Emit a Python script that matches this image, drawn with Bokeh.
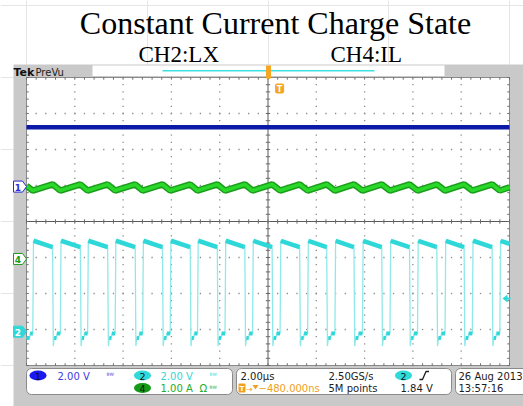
import numpy as np
from bokeh.plotting import figure
from bokeh.models import Range1d
from bokeh.core.properties import value
from bokeh.embed import file_html
from bokeh.resources import INLINE

# ---------------- data ----------------
title_text = "Constant Current Charge State"
subtitle_texts = ["CH2:LX", "CH4:IL"]

time_per_div_us = 2.0
n_div_x = 10
n_div_y = 8

ch1_scale_v = 2.0
ch2_scale_v = 2.0
ch4_scale_a = 1.0
ch1_offset_div = 0.97
ch2_offset_div = -3.06
ch4_offset_div = -1.04

ch1_level_v = 3.3                       # blue flat trace

# CH2 (LX) switching node: edge times in microseconds
lx_rise_us = [-9.74, -8.60, -7.47, -6.33, -5.19, -4.05, -2.92, -1.78, -0.64,
              0.50, 1.64, 2.77, 3.91, 5.05, 6.19, 7.33, 8.46, 9.60]
lx_fall_us = [-8.92, -7.77, -6.64, -5.50, -4.37, -3.22, -2.10, -0.96, 0.17,
              1.31, 2.43, 3.56, 4.71, 5.86, 6.99, 8.12, 9.28]
lx_high_start_v = 5.05
lx_high_end_v = 4.70
lx_low_start_v = -0.35
lx_low_end_v = -0.10
lx_undershoot_v = -0.80
lx_last_v = 4.88

# CH4 (IL) inductor current
il_peak_a = 2.07
il_valley_a = 1.90
il_start_a = 2.03
il_end_a = 1.99

trigger_level_v = 1.84
trigger_pos_us = 0.48

ch_labels = ["1", "2", "4"]
ch_scale_texts = ["2.00 V", "2.00 V", "1.00 A"]
horiz_texts = ["2.00\u00b5s", "2.50GS/s", "\u2212480.000ns", "5M points", "1.84 V"]
date_texts = ["26 Aug 2013", "13:57:16"]

# ---------------- layout (page pixels) ----------------
W, H = 523, 406
PAGE0 = 0
G_L, G_R, G_T, G_B = 26, 509, 77, 365
px_per_us = (G_R - G_L) / (n_div_x * time_per_div_us)
px_per_div = (G_B - G_T) / n_div_y
x_mid_px = (G_L + G_R) / 2
y_mid_px = (G_T + G_B) / 2
x_lo = -(x_mid_px - PAGE0) / px_per_us
x_hi = (PAGE0 + W - x_mid_px) / px_per_us
y_hi = (y_mid_px - PAGE0) / px_per_div
y_lo = -(PAGE0 + H - y_mid_px) / px_per_div
T_HALF = n_div_x * time_per_div_us / 2
D_HALF = n_div_y / 2

p = figure(width=W, height=H, x_range=Range1d(x_lo, x_hi), y_range=Range1d(y_lo, y_hi),
           x_axis_location=None, y_axis_location=None, toolbar_location=None,
           output_backend="svg", min_border=0)
p.outline_line_color = None
p.background_fill_color = "white"
p.border_fill_color = "white"
p.extra_x_ranges = {"px": Range1d(PAGE0, PAGE0 + W)}
p.extra_y_ranges = {"px": Range1d(PAGE0 + H, PAGE0)}
PX = dict(x_range_name="px", y_range_name="px")

GRAY = "#c9c9c9"
BASE_FIX = 0.28   # renderer places alphabetic baseline lower; compensate


def txt(x, y, s, size, color, font="DejaVu Sans", align="left", baseline="alphabetic", style="normal"):
    if baseline == "alphabetic":
        y = y - BASE_FIX * size
    p.text(x=[x], y=[y], text=[s], text_font=value(font), text_font_size=value(f"{size}px"),
           text_color=color, text_align=align, text_baseline=baseline,
           text_font_style=style, **PX)


# gray instrument background
p.quad(left=13, right=540, top=64, bottom=420, fill_color=GRAY, line_color=None, **PX)
# record view strip
p.quad(left=92, right=444, top=65, bottom=75.5, fill_color="white", line_color=None, **PX)
p.line(x=[162, 374], y=[70.3, 70.3], line_color="#3ee0e0", line_width=1.5, **PX)
txt(13, 75, "Tek", 11, "#111111", style="bold")
txt(35, 75, "PreVu", 10, "#222222")

# graticule
p.quad(left=-T_HALF, right=T_HALF, bottom=-D_HALF, top=D_HALF,
       fill_color="white", line_color="#8a8a8a", line_width=1)

# dotted grid
gx, gy = [], []
minor_t = np.linspace(-T_HALF, T_HALF, n_div_x * 5 + 1)
minor_d = np.linspace(-D_HALF, D_HALF, n_div_y * 5 + 1)
for k in range(1, n_div_x):
    xv = -T_HALF + k * time_per_div_us
    if abs(xv) < 1e-9:
        continue
    gx += [xv] * len(minor_d)
    gy += list(minor_d)
for k in range(1, n_div_y):
    yv = -D_HALF + k
    if abs(yv) < 1e-9:
        continue
    gx += list(minor_t)
    gy += [yv] * len(minor_t)
p.scatter(x=gx, y=gy, marker="square", size=1.3, fill_color="#8c8c8c", line_color=None)

# centre cross and border ticks
p.line(x=[-T_HALF, T_HALF], y=[0, 0], line_color="#5a5a5a", line_width=1)
p.line(x=[0, 0], y=[-D_HALF, D_HALF], line_color="#5a5a5a", line_width=1)
tdy = 2.2 / px_per_div
tdx = 2.2 / px_per_us
txs, tys = [], []
for t in minor_t:
    txs += [[t, t], [t, t], [t, t]]
    tys += [[-tdy, tdy], [D_HALF, D_HALF - tdy], [-D_HALF, -D_HALF + tdy]]
for d in minor_d:
    txs += [[-tdx, tdx], [-T_HALF, -T_HALF + tdx], [T_HALF, T_HALF - tdx]]
    tys += [[d, d], [d, d], [d, d]]
p.multi_line(xs=txs, ys=tys, line_color="#6a6a6a", line_width=1)

# ---------------- traces ----------------
def ch2(v):
    return ch2_offset_div + np.asarray(v) / ch2_scale_v


def ch4(a):
    return ch4_offset_div + np.asarray(a) / ch4_scale_a


# CH1 flat
y1 = ch1_offset_div + ch1_level_v / ch1_scale_v
p.line(x=[-T_HALF, T_HALF], y=[y1, y1], line_color="#0c1aa8", line_width=4.5)

# CH4 inductor current triangle
il_x = [-T_HALF]
il_y = [il_start_a]
for i, r in enumerate(lx_rise_us):
    il_x.append(r)
    il_y.append(il_valley_a)
    if i < len(lx_fall_us):
        il_x.append(lx_fall_us[i])
        il_y.append(il_peak_a)
il_x.append(T_HALF)
il_y.append(il_end_a)
p.line(x=il_x, y=list(ch4(il_y)), line_color="#1c9e1c", line_width=6.5)
p.line(x=il_x, y=list(ch4(il_y)), line_color="#2ad82a", line_width=3.5)

# CH2 switching node
ex = 0.03
lx_x = [-T_HALF]
lx_v = [lx_low_start_v]
hi_xs, hi_ys, lo_xs, lo_ys = [], [], [], []
first_mid = (-T_HALF + lx_rise_us[0]) / 2
lx_x += [first_mid, first_mid + 0.02]
lx_v += [lx_low_start_v, lx_low_end_v]
lo_xs += [[-T_HALF, first_mid], [first_mid + 0.02, lx_rise_us[0]]]
lo_ys += [[lx_low_start_v, lx_low_start_v], [lx_low_end_v, lx_low_end_v]]
for i, r in enumerate(lx_rise_us):
    lx_x += [r, r + ex]
    lx_v += [lx_low_end_v, lx_high_start_v]
    if i < len(lx_fall_us):
        f = lx_fall_us[i]
        nr = lx_rise_us[i + 1]
        m = (f + nr) / 2
        lx_x += [f, f + ex, f + 2.3 * ex, m, m + 0.02]
        lx_v += [lx_high_end_v, lx_undershoot_v, lx_low_start_v, lx_low_start_v, lx_low_end_v]
        hi_xs.append([r + ex, f])
        hi_ys.append([lx_high_start_v, lx_high_end_v])
        lo_xs += [[f + 2.3 * ex, m], [m + 0.02, nr]]
        lo_ys += [[lx_low_start_v, lx_low_start_v], [lx_low_end_v, lx_low_end_v]]
    else:
        lx_x.append(T_HALF)
        lx_v.append(lx_last_v)
        hi_xs.append([r + ex, T_HALF])
        hi_ys.append([lx_high_start_v, lx_last_v])
p.line(x=lx_x, y=list(ch2(lx_v)), line_color="#8fe9e9", line_width=1.3)
p.multi_line(xs=hi_xs, ys=[list(ch2(v)) for v in hi_ys], line_color="#2fd8d8", line_width=4.5)
p.multi_line(xs=lo_xs, ys=[list(ch2(v)) for v in lo_ys], line_color="#2fd8d8", line_width=4)

# ---------------- markers ----------------
def to_px_y(div):
    return y_mid_px - div * px_per_div


def badge_left(yc, label, edge, fill, tcol):
    p.patch(x=[13, 22, 26, 22, 13], y=[yc - 5.5, yc - 5.5, yc, yc + 5.5, yc + 5.5],
            fill_color=fill, line_color=edge, line_width=1, **PX)
    txt(17.5, yc + 0.5, label, 9, tcol, align="center", baseline="middle", style="bold")


badge_left(to_px_y(ch1_offset_div), "1", "#2a2ad0", "white", "#2a2ad0")
badge_left(to_px_y(ch4_offset_div), "4", "#1a9a1a", "white", "#1a9a1a")
badge_left(to_px_y(ch2_offset_div), "2", "#2fd8d8", "#2fd8d8", "white")

# trigger level arrow (right edge)
ty = to_px_y(ch2_offset_div + trigger_level_v / ch2_scale_v)
p.patch(x=[502, 507, 507], y=[ty, ty - 4, ty + 4], fill_color="#2fd8d8", line_color=None, **PX)
p.line(x=[505, 510], y=[ty, ty], line_color="#2fd8d8", line_width=2, **PX)

# trigger position markers (orange)
tx = x_mid_px + trigger_pos_us * px_per_us
p.quad(left=265.5, right=270.5, top=65, bottom=76, fill_color="#f5a623", line_color=None, **PX)
p.circle(x=[268], y=[76], radius=2.6, fill_color="#f5a623", line_color=None, **PX)
p.quad(left=tx - 4.5, right=tx + 4.5, top=83, bottom=93, fill_color="#f5a623", line_color=None,
       border_radius=2, **PX)
txt(tx, 88.5, "T", 8, "white", align="center", baseline="middle", style="bold")

# ---------------- readout boxes ----------------
for l, r in [(26, 232), (236, 451), (455, 540)]:
    p.quad(left=l, right=r, top=368, bottom=394, fill_color="white", line_color="#8a8a8a",
           line_width=1, border_radius=5, **PX)

R1, R2 = 378.5, 391
BLUE_T, CYAN_T, GREEN_T, DARK, ORANGE = "#3b3be0", "#38d4d4", "#26ad26", "#1c1c1c", "#f0a020"


def ellipse_badge(x, yc, label, fill):
    p.ellipse(x=[x], y=[yc], width=17, height=10, fill_color=fill, line_color=None, **PX)
    txt(x, yc + 0.5, label, 9.5, "#111111", align="center", baseline="middle")


ellipse_badge(37.5, 375, ch_labels[0], "#1a1af0")
txt(57, R1, ch_scale_texts[0], 10, BLUE_T)
txt(106, R1 - 1, "\u1d2e\u1d42", 7, BLUE_T)
ellipse_badge(142, 375, ch_labels[1], "#30dada")
txt(160, R1, ch_scale_texts[1], 10, CYAN_T)
txt(209, R1 - 1, "\u1d2e\u1d42", 7, CYAN_T)
ellipse_badge(142, 387.5, ch_labels[2], "#149a14")
txt(160, R2, ch_scale_texts[2], 10, GREEN_T)
txt(199, R2, "\u03a9", 10, GREEN_T)
txt(209, R2 - 1, "\u1d2e\u1d42", 7, GREEN_T)

txt(240, R1, horiz_texts[0], 10, DARK)
txt(328, R1, horiz_texts[1], 10, DARK)
ellipse_badge(403, 375, ch_labels[1], "#30dada")
p.line(x=[419, 422, 425.5, 428.5], y=[379, 379, 371, 371], line_color=DARK, line_width=1.3, **PX)
p.quad(left=238, right=245, top=383, bottom=392, fill_color=ORANGE, line_color=None,
       border_radius=1, **PX)
txt(241.5, 388, "T", 7, "white", align="center", baseline="middle", style="bold")
txt(245.5, R2, "\u2192", 8, ORANGE)
p.patch(x=[252, 258, 255], y=[384.5, 384.5, 389], fill_color=ORANGE, line_color=None, **PX)
txt(258, R2, horiz_texts[2], 10, ORANGE)
txt(328, R2, horiz_texts[3], 10, DARK)
txt(400, R2, horiz_texts[4], 10, DARK)

txt(458, R1, date_texts[0], 10, DARK)
txt(458, R2, date_texts[1], 10, DARK)

# ---------------- titles ----------------
txt(275, 31.5, title_text, 32, "#000000", font="Liberation Serif", align="center")
txt(138, 60, subtitle_texts[0], 23, "#000000", font="Liberation Serif")
txt(330, 60, subtitle_texts[1], 23, "#000000", font="Liberation Serif")

open("out.html", "w").write(file_html(p, INLINE))
